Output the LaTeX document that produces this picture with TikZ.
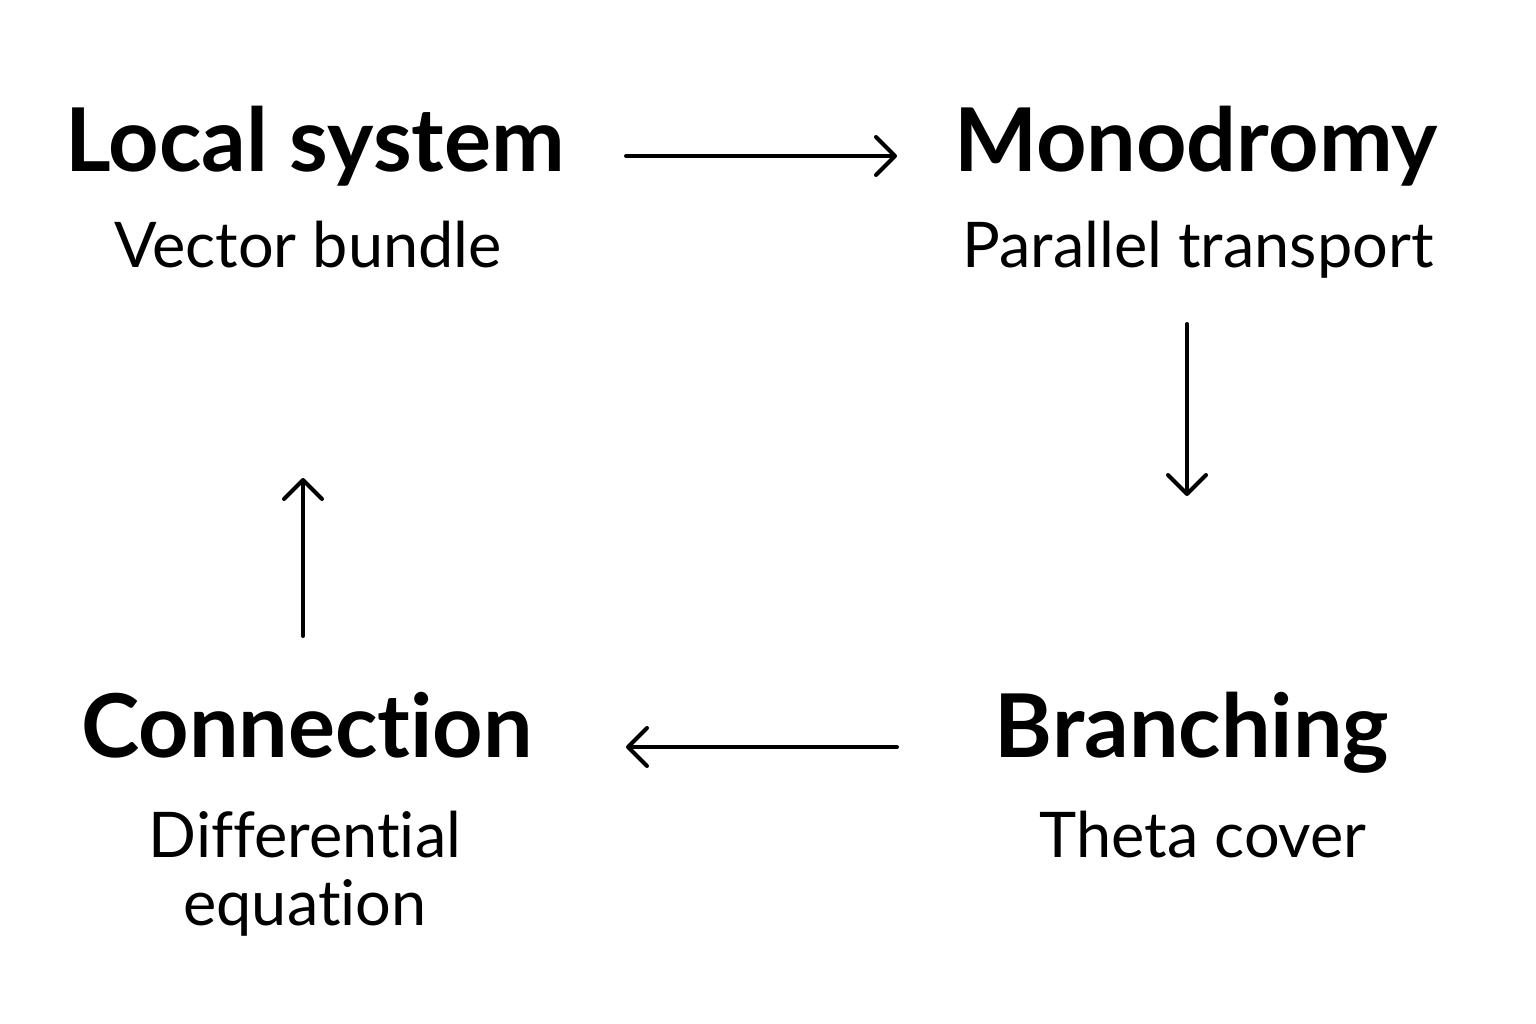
\documentclass[tikz,border=0pt]{standalone}
\usepackage{fontspec}
\setmainfont{Lato}[Ligatures={NoCommon}]
\usetikzlibrary{arrows.meta,calc}
\begin{document}
\begin{tikzpicture}[x=1pt,y=-1pt,
  title/.style={font=\fontsize{88}{100}\selectfont\bfseries, anchor=base, inner sep=0pt},
  sub/.style={font=\fontsize{63}{68}\selectfont, anchor=base, inner sep=0pt, align=center},
  arr/.style={line width=4pt, line cap=round, -{Straight Barb[length=19pt,width=38pt,line width=4pt, line join=round, round]}}]
\useasboundingbox (0,0) rectangle (1536,1024);
\fill[white] (0,0) rectangle (1536,1024);
\node[title] (ls) at (315,172) {Local system};
\node[sub] (vb) at (308,268) {Vector bundle};
\node[title] (mo) at (1196,172) {Monodromy};
\node[sub] (pt) at (1198,268) {Parallel transport};
\node[title] (co) at (307,757) {Connection};
\node[sub] (de) at (305,925) {Differential\\equation};
\node[title] (br) at (1192,757) {Branching};
\node[sub] (tc) at (1203,857) {Theta cover};
\draw[arr] ($(ls.base)+(311,-16)$) -- ($(mo.base)+(-299,-16)$);
\draw[arr] ($(pt.base)+(-11,56)$) -- ($(br.base)+(-5,-261)$);
\draw[arr] ($(br.base)+(-295,-10)$) -- ($(co.base)+(319,-10)$);
\draw[arr] ($(co.base)+(-4,-121)$) -- ($(vb.base)+(-5,210)$);
\end{tikzpicture}
\end{document}
